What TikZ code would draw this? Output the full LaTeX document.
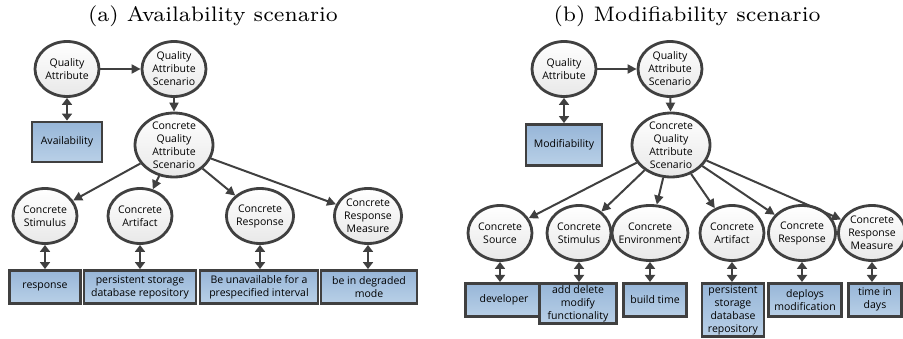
\documentclass[tikz,border=0pt]{standalone}
\usepackage{fontspec}
\setsansfont{Open Sans}
\newfontfamily\capfont{lmroman7-regular.otf}
\usepackage{tikz}
\usetikzlibrary{arrows,arrows.meta,shapes}
\definecolor{linegray}{HTML}{404040}
\definecolor{boxtop}{HTML}{97B6D8}
\definecolor{boxbot}{HTML}{B9D0E7}
\tikzstyle{concept}=[ellipse,draw=linegray,line width=2.8pt,top color=white,middle color=white,bottom color=black!9,minimum width=64pt,minimum height=55pt,inner sep=0pt,align=center,font=\sffamily\fontsize{10.5}{13}\selectfont]
\tikzstyle{bigconcept}=[concept,minimum width=78pt,minimum height=64pt,inner ysep=-3pt]
\tikzstyle{valuebox}=[rectangle,draw=linegray,line width=2.8pt,top color=boxtop,bottom color=boxbot,minimum height=33pt,inner sep=2pt,align=center,font=\sffamily\fontsize{10.5}{13}\selectfont]
\tikzstyle{edge}=[draw,line width=2pt,linegray,-{Triangle[length=9pt,width=9pt]}]
\tikzstyle{link}=[draw,line width=2.6pt,linegray,{Triangle[length=7pt,width=10pt]}-{Triangle[length=7pt,width=10pt]}]
\tikzstyle{caption}=[font=\capfont\fontsize{21}{25}\selectfont]

\begin{document}
\begin{tikzpicture}[x=1pt,y=-1pt]
    \useasboundingbox (0,0) rectangle (903,339);

    \node[caption] (titleA) at (213,16) {(a) Availability scenario};
    \node[caption] (titleB) at (687,16) {(b) Modifiability scenario};

    % (a) availability
    \foreach \pos/\name/\txt in {{(67,69)/qa/{Quality\\Attribute}}, {(174,69)/qas/{Quality\\Attribute\\Scenario}},
        {(45,216)/stim/{Concrete\\Stimulus}}, {(140,216)/art/{Concrete\\Artifact}},
        {(260,216)/resp/{Concrete\\Response}}, {(368,216)/meas/{Concrete\\Response\\Measure}}}
        \node[concept] (\name) at \pos {\txt};
    \node[bigconcept] (cqas) at (174,145) {Concrete\\Quality\\Attribute\\Scenario};

    \node[valuebox,minimum width=70pt,minimum height=40pt] (avail) at (67,142) {Availability};
    \foreach \x/\name/\bw/\txt in {45/vresp/71/{response}, 140/vart/112/{persistent storage\\database repository},
        259/vunav/118/{Be unavailable for a\\prespecified interval}, 369/vdeg/96/{be in degraded\\mode}}
        \node[valuebox,minimum width=\bw pt] (\name) at (\x,287) {\txt};

    % Connect vertices
    \path[edge] (qa) -- (qas);
    \path[edge] (qas) -- (cqas);
    \foreach \dest in {stim,art,resp,meas}
        \path[edge] (cqas) -- (\dest);
    \path[link] (qa) -- (avail);
    \foreach \source/\dest in {stim/vresp, art/vart, resp/vunav, meas/vdeg}
        \path[link] (\source) -- (\source |- \dest.north);

    % (b) modifiability
    \foreach \pos/\name/\txt in {{(564,69)/qaB/{Quality\\Attribute}}, {(670,69)/qasB/{Quality\\Attribute\\Scenario}},
        {(500,233)/srcB/{Concrete\\Source}}, {(579,233)/stimB/{Concrete\\Stimulus}},
        {(732,233)/artB/{Concrete\\Artifact}}, {(802,233)/respB/{Concrete\\Response}},
        {(872,233)/measB/{Concrete\\Response\\Measure}}}
        \node[concept] (\name) at \pos {\txt};
    \node[concept,minimum width=76pt,inner xsep=-7pt] (envB) at (650,233) {Concrete\\Environment};
    \node[bigconcept] (cqasB) at (671,145) {Concrete\\Quality\\Attribute\\Scenario};

    \node[valuebox,minimum width=76pt,minimum height=41pt] (modif) at (564,145) {Modifiability};
    \foreach \x/\name/\bw/\txt in {504/vdev/77/{developer}, 578/vadd/77/{add delete\\modify\\functionality},
        655/vbuild/63/{build time}, 733/vpers/62/{persistent\\storage\\database\\repository},
        805/vdepl/73/{deploys\\modification}, 875/vtime/53/{time in\\days}}
        \node[valuebox,anchor=north,minimum width=\bw pt] (\name) at (\x,282) {\txt};

    % Connect vertices
    \path[edge] (qaB) -- (qasB);
    \path[edge] (qasB) -- (cqasB);
    \foreach \dest in {srcB,stimB,envB,artB,respB,measB}
        \path[edge] (cqasB) -- (\dest);
    \path[link] (qaB) -- (modif);
    \foreach \source/\dest in {srcB/vdev, stimB/vadd, envB/vbuild, artB/vpers, respB/vdepl, measB/vtime}
        \path[link] (\source) -- (\source |- \dest.north);

\end{tikzpicture}
\end{document}
